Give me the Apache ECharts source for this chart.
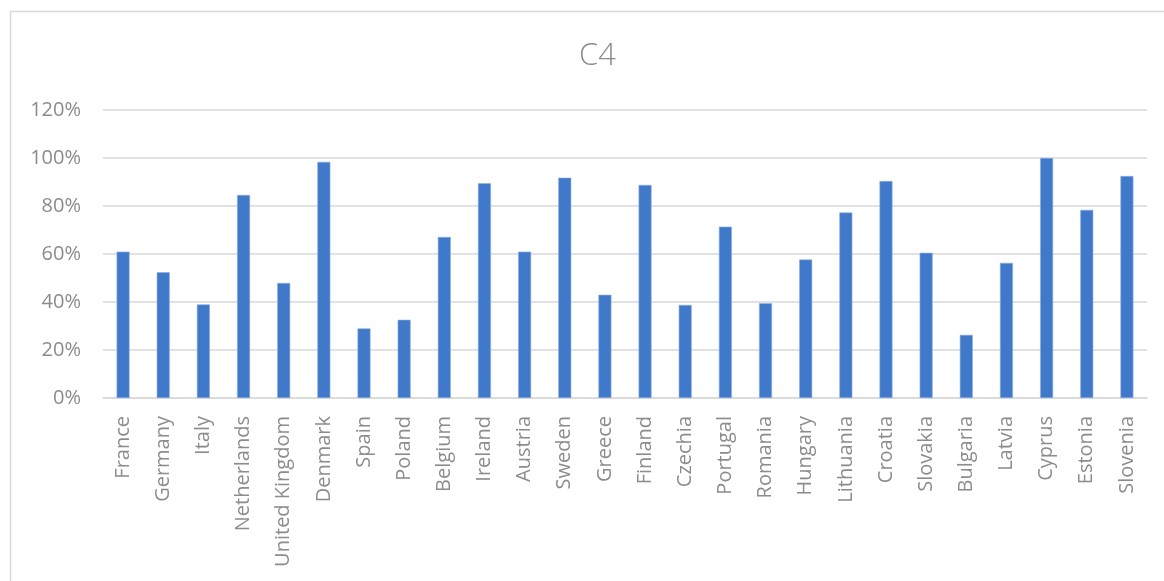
<!DOCTYPE html>
<html>
<head>
<meta charset="utf-8">
<title>C4</title>
<script src="https://cdn.jsdelivr.net/npm/echarts@6/dist/echarts.min.js"></script>
<style>
  html, body { margin: 0; padding: 0; background: #ffffff; }
  #chart { width: 1164px; height: 581px; }
</style>
</head>
<body>
<div id="chart"></div>
<script>
// Countries along the category axis
const countries = [
  'France', 'Germany', 'Italy', 'Netherlands', 'United Kingdom', 'Denmark',
  'Spain', 'Poland', 'Belgium', 'Ireland', 'Austria', 'Sweden', 'Greece',
  'Finland', 'Czechia', 'Portugal', 'Romania', 'Hungary', 'Lithuania',
  'Croatia', 'Slovakia', 'Bulgaria', 'Latvia', 'Cyprus', 'Estonia', 'Slovenia'
];

// C4 share per country, in percent
const c4Values = [
  61.0, 52.4, 39.0, 84.6, 47.9, 98.4,
  29.0, 32.6, 67.1, 89.5, 61.0, 91.8, 43.0,
  88.8, 38.8, 71.4, 39.5, 57.7, 77.3,
  90.4, 60.5, 26.3, 56.3, 100.0, 78.4, 92.5
];

// Value axis range and step (percent)
const yMin = 0;
const yMax = 120;
const yStep = 20;

const textColor = '#8c8c8c';
const lineColor = '#d9d9d9';
const font = '"Open Sans", "Noto Sans", sans-serif';

const chart = echarts.init(document.getElementById('chart'), null, { renderer: 'canvas' });

chart.setOption({
  backgroundColor: '#ffffff',
  animation: false,
  title: {
    text: 'C4',
    left: 574,
    top: 36,
    textStyle: {
      fontFamily: font,
      fontWeight: 300,
      fontSize: 31,
      color: textColor
    }
  },
  graphic: [{
    type: 'rect',
    shape: { x: 10.5, y: 11.5, width: 1170, height: 600 },
    style: { fill: 'none', stroke: lineColor, lineWidth: 1.5 },
    silent: true,
    z: -1
  }],
  grid: {
    left: 103,
    right: 17,
    top: 110,
    bottom: 183,
    containLabel: false
  },
  xAxis: {
    type: 'category',
    data: countries,
    axisLine: { show: true, lineStyle: { color: lineColor, width: 1.5 } },
    axisTick: { show: false },
    axisLabel: {
      rotate: 90,
      interval: 0,
      margin: 18,
      fontFamily: font,
      fontSize: 20,
      color: textColor
    }
  },
  yAxis: {
    type: 'value',
    min: yMin,
    max: yMax,
    interval: yStep,
    axisLine: { show: false },
    axisTick: { show: false },
    splitLine: { show: true, lineStyle: { color: lineColor, width: 1.5 } },
    axisLabel: {
      margin: 22,
      fontFamily: font,
      fontSize: 20,
      color: textColor,
      formatter: v => v + '%'
    }
  },
  series: [{
    name: 'C4',
    type: 'bar',
    data: c4Values,
    barWidth: 13,
    itemStyle: {
      color: '#4179CA',
      borderColor: '#8fb0e0',
      borderWidth: 0.6
    }
  }]
});
</script>
</body>
</html>
